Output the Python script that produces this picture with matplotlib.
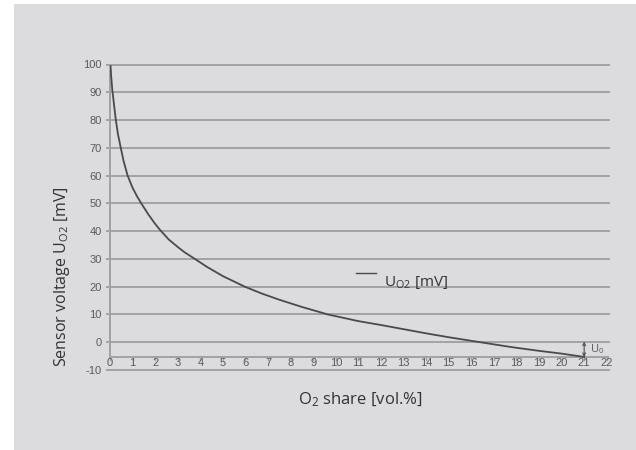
import numpy as np
import matplotlib.pyplot as plt
from matplotlib.patches import Rectangle

plt.rcParams['font.family'] = ['Open Sans', 'DejaVu Sans']
plt.rcParams['mathtext.fontset'] = 'custom'
plt.rcParams['mathtext.rm'] = 'Open Sans'
plt.rcParams['mathtext.it'] = 'Open Sans'

# O2 share [vol.%] and sensor voltage [mV]
o2_share = [0.02, 0.05, 0.1, 0.15, 0.2, 0.25, 0.35, 0.49, 0.6, 0.78, 1.0,
            1.2, 1.4, 1.7, 2.0, 2.21, 2.6, 3.0, 3.3, 3.76, 4.3, 5.0, 5.97,
            6.7, 7.5, 8.5, 9.65, 11.0, 12.0, 13.0, 14.0, 15.0, 16.4, 17.5,
            18.0, 19.0, 20.0, 21.0]
u_o2 = [100, 96, 91, 87.5, 84, 80.5, 75, 69.5, 65.3, 60, 55.6,
        52.5, 49.8, 46.0, 42.6, 40.5, 37.0, 34.3, 32.4, 30, 27.1, 23.8, 20,
        17.6, 15.3, 12.7, 10, 7.6, 6.2, 4.7, 3.2, 1.8, 0, -1.4,
        -2, -3.1, -4.1, -5.3]

x_ticks = list(range(0, 23))
y_ticks = list(range(-10, 101, 10))
axis_cross = -5.3

W, H = 636, 450
fig = plt.figure(figsize=(W / 100, H / 100), dpi=100, facecolor='white')
fig.patches.append(Rectangle((14 / W, 0), 1, 1 - 4 / H, transform=fig.transFigure,
                             facecolor='#dcdcde', edgecolor='none', zorder=-10))

ax = fig.add_axes([110 / W, 1 - 370 / H, (609 - 110) / W, (370 - 64.5) / H])
ax.set_facecolor('none')
ax.set_xlim(0, 22.1)
ax.set_ylim(-10, 100)

grid_col = '#a2a2a4'
for v in y_ticks:
    ax.plot([-0.15, 22.1], [v, v], color=grid_col, lw=1.4, clip_on=False, zorder=1)

ax.plot(o2_share, u_o2, color='#4a4a4a', lw=1.3, zorder=3,
        solid_joinstyle='round')

for s in ['top', 'right', 'bottom']:
    ax.spines[s].set_visible(False)
ax.spines['left'].set_color(grid_col)
ax.spines['left'].set_linewidth(1.4)
ax.spines['left'].set_bounds(axis_cross, 100)
ax.plot([0, 22.1], [axis_cross, axis_cross], color=grid_col, lw=1.4, zorder=2)

ax.set_yticks(y_ticks)
ax.set_yticklabels([str(v) for v in y_ticks])
ax.tick_params(axis='y', length=0, pad=6, labelsize=8, labelcolor='#5a5a5a')
for lab in ax.get_yticklabels():
    lab.set_family('Liberation Sans')

ax.set_xticks([])
for v in x_ticks:
    ax.plot([v, v], [axis_cross, axis_cross - 1.1], color=grid_col, lw=1.0,
            clip_on=False, zorder=2)
    ax.text(v, axis_cross - 0.5, str(v), ha='center', va='top', fontsize=8,
            color='#5a5a5a', family='Liberation Sans')

# U0 marker at 21 %
ax.annotate('', xy=(21, axis_cross), xytext=(21, 0.2),
            arrowprops=dict(arrowstyle='<->', color='#4a4a4a', lw=0.8,
                            shrinkA=0, shrinkB=0, mutation_scale=5))
ax.text(21.25, -2.6, r'U$_0$', fontsize=8, color='#5a5a5a', va='center')

# legend
ax.plot([10.9, 11.8], [24.8, 24.8], color='#4a4a4a', lw=1.0)
ax.text(12.15, 21.6, r'U$_{\mathrm{O2}}$ [mV]', fontsize=11, color='#333333', va='center')

fig.text(62 / W, 1 - 277 / H, r'Sensor voltage U$_{\mathrm{O2}}$ [mV]', rotation=90,
         ha='center', va='center', fontsize=11.5, color='#333333')
fig.text(360 / W, 1 - 400 / H, r'O$_2$ share [vol.%]', ha='center', va='center',
         fontsize=12, color='#333333')

fig.savefig('out.png', dpi=100, facecolor=fig.get_facecolor())
